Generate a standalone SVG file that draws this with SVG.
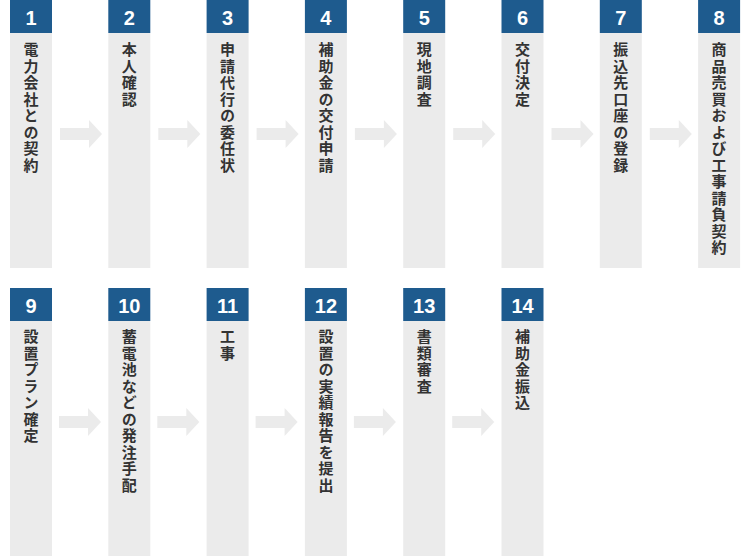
<svg xmlns="http://www.w3.org/2000/svg" width="750" height="556" viewBox="0 0 750 556">
<style>
.num{fill:#1e5b8e}
.body{fill:#ebebeb}
.n{font-family:"Liberation Sans",Arial,sans-serif;font-weight:bold;font-size:20px;fill:#fff;text-anchor:middle}
.t{font-family:"Noto Sans CJK JP","Noto Sans",sans-serif;font-weight:bold;font-size:15px;fill:#333;writing-mode:vertical-rl;letter-spacing:1.5px}
.arr{fill:#ebebeb}
</style>
<defs>
<path id="a" d="M0,-6 H29 V-14 L42,0 L29,14 V6 H0 Z"/>
</defs>
<rect width="750" height="556" fill="#fff"/>
<g id="connectors">
<use href="#a" class="arr" x="60" y="134"/>
<use href="#a" class="arr" x="158.3" y="134"/>
<use href="#a" class="arr" x="256.6" y="134"/>
<use href="#a" class="arr" x="354.9" y="134"/>
<use href="#a" class="arr" x="453.2" y="134"/>
<use href="#a" class="arr" x="551.5" y="134"/>
<use href="#a" class="arr" x="649.8" y="134"/>
<use href="#a" class="arr" x="59" y="422"/>
<use href="#a" class="arr" x="157.3" y="422"/>
<use href="#a" class="arr" x="255.6" y="422"/>
<use href="#a" class="arr" x="353.9" y="422"/>
<use href="#a" class="arr" x="452.2" y="422"/>
</g>
<g id="step1"><rect class="num" x="10" y="0" width="42" height="33"/><rect class="body" x="10" y="33" width="42" height="235"/><text class="n" x="31" y="25">1</text><text class="t" x="31" y="42">電力会社との契約</text></g>
<g id="step2"><rect class="num" x="108.3" y="0" width="42" height="33"/><rect class="body" x="108.3" y="33" width="42" height="235"/><text class="n" x="129.3" y="25">2</text><text class="t" x="129.3" y="42">本人確認</text></g>
<g id="step3"><rect class="num" x="206.6" y="0" width="42" height="33"/><rect class="body" x="206.6" y="33" width="42" height="235"/><text class="n" x="227.6" y="25">3</text><text class="t" x="227.6" y="42">申請代行の委任状</text></g>
<g id="step4"><rect class="num" x="304.9" y="0" width="42" height="33"/><rect class="body" x="304.9" y="33" width="42" height="235"/><text class="n" x="325.9" y="25">4</text><text class="t" x="325.9" y="42">補助金の交付申請</text></g>
<g id="step5"><rect class="num" x="403.2" y="0" width="42" height="33"/><rect class="body" x="403.2" y="33" width="42" height="235"/><text class="n" x="424.2" y="25">5</text><text class="t" x="424.2" y="42">現地調査</text></g>
<g id="step6"><rect class="num" x="501.5" y="0" width="42" height="33"/><rect class="body" x="501.5" y="33" width="42" height="235"/><text class="n" x="522.5" y="25">6</text><text class="t" x="522.5" y="42">交付決定</text></g>
<g id="step7"><rect class="num" x="599.8" y="0" width="42" height="33"/><rect class="body" x="599.8" y="33" width="42" height="235"/><text class="n" x="620.8" y="25">7</text><text class="t" x="620.8" y="42">振込先口座の登録</text></g>
<g id="step8"><rect class="num" x="698.1" y="0" width="42" height="33"/><rect class="body" x="698.1" y="33" width="42" height="235"/><text class="n" x="719.1" y="25">8</text><text class="t" x="719.1" y="42">商品売買および工事請負契約</text></g>
<g id="step9"><rect class="num" x="10" y="288" width="42" height="33"/><rect class="body" x="10" y="321" width="42" height="235"/><text class="n" x="31" y="313">9</text><text class="t" x="31" y="329">設置プラン確定</text></g>
<g id="step10"><rect class="num" x="108.3" y="288" width="42" height="33"/><rect class="body" x="108.3" y="321" width="42" height="235"/><text class="n" x="129.3" y="313">10</text><text class="t" x="129.3" y="329">蓄電池などの発注手配</text></g>
<g id="step11"><rect class="num" x="206.6" y="288" width="42" height="33"/><rect class="body" x="206.6" y="321" width="42" height="235"/><text class="n" x="227.6" y="313">11</text><text class="t" x="227.6" y="329">工事</text></g>
<g id="step12"><rect class="num" x="304.9" y="288" width="42" height="33"/><rect class="body" x="304.9" y="321" width="42" height="235"/><text class="n" x="325.9" y="313">12</text><text class="t" x="325.9" y="329">設置の実績報告を提出</text></g>
<g id="step13"><rect class="num" x="403.2" y="288" width="42" height="33"/><rect class="body" x="403.2" y="321" width="42" height="235"/><text class="n" x="424.2" y="313">13</text><text class="t" x="424.2" y="329">書類審査</text></g>
<g id="step14"><rect class="num" x="501.5" y="288" width="42" height="33"/><rect class="body" x="501.5" y="321" width="42" height="235"/><text class="n" x="522.5" y="313">14</text><text class="t" x="522.5" y="329">補助金振込</text></g>
</svg>
